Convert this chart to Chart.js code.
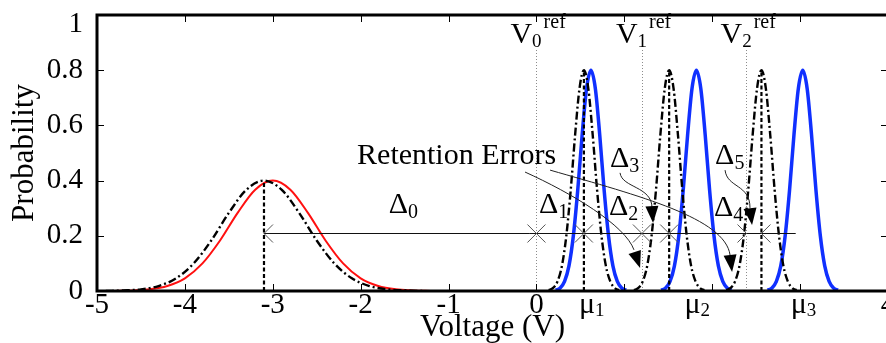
<!DOCTYPE html>
<html>
<head>
<meta charset="utf-8">
<title>Threshold voltage distributions before and after retention</title>
<script src="https://cdn.jsdelivr.net/npm/chart.js@4.4.1/dist/chart.umd.min.js"></script>
<style>
  html, body { margin: 0; padding: 0; background: #fff; overflow: hidden; }
  #frame { width: 886px; height: 343px; overflow: hidden; }
  #chart { display: block; }
</style>
</head>
<body>
<div id="frame"><canvas id="chart" width="900" height="343" style="width:900px;height:343px"></canvas></div>
<script>
const SERIF = "'Liberation Serif', 'Times New Roman', serif";

// Axis ticks
const xTickValues = [-5, -4, -3, -2, -1, 0, 1, 2, 3, 4];
const xTickLabels = ['-5', '-4', '-3', '-2', '-1', '0', '', '', '', '4'];
const yTickValues = [0, 0.2, 0.4, 0.6, 0.8, 1];
const yTickLabels = ['0', '0.2', '0.4', '0.6', '0.8', '1'];

// Read reference voltages and state means (V)
const refVoltages = [0, 1.2, 2.39];                 // V0ref, V1ref, V2ref
const programmedMeans = [0.62, 1.82, 3.03];         // mu1, mu2, mu3
const retainedMeans = [-3.1, 0.54, 1.51, 2.56];     // erased + programmed states after retention
const retainedPeaks = [0.4, 0.8, 0.8, 0.8];

// Erased state (fresh)
const erasedV = [-4.8, -4.6, -4.4, -4.2, -4.0, -3.8, -3.6, -3.4, -3.2, -3.0, -2.8, -2.6, -2.4, -2.2, -2.0, -1.8, -1.6, -1.4, -1.2];
const erasedP = [0.000, 0.002, 0.006, 0.018, 0.046, 0.100, 0.183, 0.283, 0.367, 0.400, 0.367, 0.283, 0.183, 0.100, 0.046, 0.018, 0.006, 0.002, 0.000];
// Erased state (after retention)
const erasedRetV = [-4.9, -4.7, -4.5, -4.3, -4.1, -3.9, -3.7, -3.5, -3.3, -3.1, -2.9, -2.7, -2.5, -2.3, -2.1, -1.9, -1.7, -1.5, -1.3];
const erasedRetP = [0.000, 0.002, 0.006, 0.018, 0.046, 0.100, 0.183, 0.283, 0.367, 0.400, 0.367, 0.283, 0.183, 0.100, 0.046, 0.018, 0.006, 0.002, 0.000];

// Programmed states (fresh)
const prog1V = [0.22, 0.27, 0.32, 0.37, 0.42, 0.47, 0.52, 0.57, 0.62, 0.67, 0.72, 0.77, 0.82, 0.87, 0.92, 0.97, 1.02];
const prog1P = [0.003, 0.011, 0.035, 0.091, 0.200, 0.366, 0.566, 0.734, 0.800, 0.734, 0.566, 0.366, 0.200, 0.091, 0.035, 0.011, 0.003];
const prog2V = [1.42, 1.47, 1.52, 1.57, 1.62, 1.67, 1.72, 1.77, 1.82, 1.87, 1.92, 1.97, 2.02, 2.07, 2.12, 2.17, 2.22];
const prog2P = [0.003, 0.011, 0.035, 0.091, 0.200, 0.366, 0.566, 0.734, 0.800, 0.734, 0.566, 0.366, 0.200, 0.091, 0.035, 0.011, 0.003];
const prog3V = [2.63, 2.68, 2.73, 2.78, 2.83, 2.88, 2.93, 2.98, 3.03, 3.08, 3.13, 3.18, 3.23, 3.28, 3.33, 3.38, 3.43];
const prog3P = [0.003, 0.011, 0.035, 0.091, 0.200, 0.366, 0.566, 0.734, 0.800, 0.734, 0.566, 0.366, 0.200, 0.091, 0.035, 0.011, 0.003];

// Programmed states (after retention)
const ret1V = [0.14, 0.19, 0.24, 0.29, 0.34, 0.39, 0.44, 0.49, 0.54, 0.59, 0.64, 0.69, 0.74, 0.79, 0.84, 0.89, 0.94];
const ret1P = [0.003, 0.011, 0.035, 0.091, 0.200, 0.366, 0.566, 0.734, 0.800, 0.734, 0.566, 0.366, 0.200, 0.091, 0.035, 0.011, 0.003];
const ret2V = [1.11, 1.16, 1.21, 1.26, 1.31, 1.36, 1.41, 1.46, 1.51, 1.56, 1.61, 1.66, 1.71, 1.76, 1.81, 1.86, 1.91];
const ret2P = [0.003, 0.011, 0.035, 0.091, 0.200, 0.366, 0.566, 0.734, 0.800, 0.734, 0.566, 0.366, 0.200, 0.091, 0.035, 0.011, 0.003];
const ret3V = [2.16, 2.21, 2.26, 2.31, 2.36, 2.41, 2.46, 2.51, 2.56, 2.61, 2.66, 2.71, 2.76, 2.81, 2.86, 2.91, 2.96];
const ret3P = [0.003, 0.011, 0.035, 0.091, 0.200, 0.366, 0.566, 0.734, 0.800, 0.734, 0.566, 0.366, 0.200, 0.091, 0.035, 0.011, 0.003];

// Margin bar and annotation placement (data units)
const deltaLevel = 0.21;
const deltaTailEnd = 2.95;
const refLineTop = 0.88;
const deltaLabels = [
  { sub: '0', x: -1.68, y: 0.283 },
  { sub: '1', x: 0.03,  y: 0.283 },
  { sub: '2', x: 0.826, y: 0.275 },
  { sub: '3', x: 0.837, y: 0.449 },
  { sub: '4', x: 2.021, y: 0.272 },
  { sub: '5', x: 2.033, y: 0.460 }
];
const errorsLabel = { text: 'Retention Errors', x: -2.041, y: 0.460 };
// start, control 1, control 2, head base, head tip
const calloutArrows = [
  [[-0.130, 0.431], [0.399, 0.355], [1.008, 0.239], [1.110, 0.149], [1.179, 0.083]],
  [[0.155, 0.438], [1.178, 0.344], [2.146, 0.264], [2.203, 0.130], [2.226, 0.069]],
  [[0.951, 0.428], [0.974, 0.373], [1.315, 0.380], [1.315, 0.301], [1.327, 0.246]],
  [[2.146, 0.438], [2.169, 0.373], [2.430, 0.388], [2.430, 0.301], [2.453, 0.239]]
];

const pts = (xs, ys) => xs.map((v, i) => ({ x: v, y: ys[i] }));

const curve = (data, color, width, dash, order) => ({
  data, borderColor: color, borderWidth: width, borderDash: dash,
  pointRadius: 0, fill: false, cubicInterpolationMode: 'monotone', order
});

const RED = '#ff1010';
const BLUE = '#1030ff';
const BLACK = '#000000';
const DASHDOT = [8, 3, 2, 3];

const datasets = [
  curve(pts(erasedV, erasedP), RED, 2, [], 6),
  curve(pts(prog1V, prog1P), BLUE, 3.5, [], 5),
  curve(pts(prog2V, prog2P), BLUE, 3.5, [], 5),
  curve(pts(prog3V, prog3P), BLUE, 3.5, [], 5),
  curve(pts(erasedRetV, erasedRetP), BLACK, 2.4, DASHDOT, 4),
  curve(pts(ret1V, ret1P), BLACK, 2.4, DASHDOT, 4),
  curve(pts(ret2V, ret2P), BLACK, 2.4, DASHDOT, 4),
  curve(pts(ret3V, ret3P), BLACK, 2.4, DASHDOT, 4)
];
// dashed drops from each retained peak to the axis
retainedMeans.forEach((m, i) => {
  datasets.push({
    data: [{ x: m, y: 0 }, { x: m, y: retainedPeaks[i] }],
    borderColor: BLACK, borderWidth: 2.2, borderDash: [4, 2.5],
    pointRadius: 0, fill: false, order: 1
  });
});

function openHead(ctx, px, py, dir) {
  ctx.moveTo(px - dir * 9, py - 9);
  ctx.lineTo(px, py);
  ctx.lineTo(px - dir * 9, py + 9);
}

function subText(ctx, main, sub, x, y, mainSize, subSize, drop) {
  ctx.font = mainSize + 'px ' + SERIF;
  ctx.fillText(main, x, y);
  const w = ctx.measureText(main).width;
  ctx.font = subSize + 'px ' + SERIF;
  ctx.fillText(sub, x + w, y + drop);
  return x + w + ctx.measureText(sub).width;
}

const annotate = {
  id: 'annotate',
  beforeDatasetsDraw(chart) {
    const { ctx, scales: { x, y } } = chart;
    ctx.save();
    ctx.strokeStyle = '#8c8c8c';
    ctx.lineWidth = 1;
    ctx.setLineDash([1, 2]);
    refVoltages.forEach(v => {
      const px = Math.round(x.getPixelForValue(v)) + 0.5;
      ctx.beginPath();
      ctx.moveTo(px, y.getPixelForValue(0));
      ctx.lineTo(px, y.getPixelForValue(refLineTop));
      ctx.stroke();
    });
    ctx.restore();
  },
  afterDatasetsDraw(chart) {
    const { ctx, scales: { x, y } } = chart;
    const X = v => x.getPixelForValue(v);
    const Y = v => y.getPixelForValue(v);
    ctx.save();

    // margin bar with arrowheads at every boundary
    const bounds = [retainedMeans[0], refVoltages[0], retainedMeans[1], refVoltages[1],
                    retainedMeans[2], refVoltages[2], retainedMeans[3]];
    const ly = Math.round(Y(deltaLevel)) + 0.5;
    ctx.strokeStyle = '#111';
    ctx.lineWidth = 1;
    ctx.beginPath();
    ctx.moveTo(X(bounds[0]), ly);
    ctx.lineTo(X(deltaTailEnd), ly);
    ctx.stroke();
    ctx.strokeStyle = '#555';
    ctx.beginPath();
    for (let i = 0; i < 5; i++) {
      openHead(ctx, X(bounds[i]), ly, -1);
      openHead(ctx, X(bounds[i + 1]), ly, 1);
    }
    openHead(ctx, X(bounds[6]), ly, -1);
    ctx.stroke();

    // curved callouts with filled heads
    calloutArrows.forEach(a => {
      const p = a.map(([vx, vy]) => [X(vx), Y(vy)]);
      ctx.strokeStyle = '#222';
      ctx.lineWidth = 1;
      ctx.beginPath();
      ctx.moveTo(p[0][0], p[0][1]);
      ctx.bezierCurveTo(p[1][0], p[1][1], p[2][0], p[2][1], p[3][0], p[3][1]);
      ctx.stroke();
      const tip = p[4];
      let dx = tip[0] - p[3][0], dy = tip[1] - p[3][1];
      const len = Math.hypot(dx, dy);
      dx /= len; dy /= len;
      const bx = tip[0] - dx * 17, by = tip[1] - dy * 17;
      ctx.fillStyle = '#000';
      ctx.beginPath();
      ctx.moveTo(tip[0], tip[1]);
      ctx.lineTo(bx - dy * 6.5, by + dx * 6.5);
      ctx.lineTo(bx + dy * 6.5, by - dx * 6.5);
      ctx.closePath();
      ctx.fill();
    });

    // text
    ctx.fillStyle = '#000';
    ctx.textBaseline = 'alphabetic';
    ctx.textAlign = 'left';
    deltaLabels.forEach(d => subText(ctx, '\u0394', d.sub, X(d.x), Y(d.y), 30, 20, 5));
    ctx.font = '30px ' + SERIF;
    ctx.fillText(errorsLabel.text, X(errorsLabel.x), Y(errorsLabel.y));

    // reference voltage labels
    refVoltages.forEach((v, i) => {
      const left = X(v) - 26;
      const base = 43;
      const end = subText(ctx, 'V', String(i), left, base, 30, 19, 4);
      ctx.font = '20px ' + SERIF;
      ctx.fillText('ref', end + 2, base - 15);
    });
    ctx.restore();
  },
  afterDraw(chart) {
    const { ctx, chartArea: { left, right, top, bottom }, scales: { x, y } } = chart;
    ctx.save();
    // inward ticks on all four sides
    ctx.strokeStyle = '#000';
    ctx.lineWidth = 1;
    ctx.beginPath();
    xTickValues.forEach(v => {
      const px = Math.round(x.getPixelForValue(v)) + 0.5;
      ctx.moveTo(px, bottom); ctx.lineTo(px, bottom - 7);
      ctx.moveTo(px, top); ctx.lineTo(px, top + 7);
    });
    yTickValues.forEach(v => {
      const py = Math.round(y.getPixelForValue(v)) + 0.5;
      ctx.moveTo(left, py); ctx.lineTo(left + 7, py);
      ctx.moveTo(right, py); ctx.lineTo(right - 7, py);
    });
    ctx.stroke();
    // plot frame
    ctx.lineWidth = 3;
    ctx.strokeRect(left, top, right - left, bottom - top);

    // state-mean labels under the axis
    ctx.fillStyle = '#000';
    ctx.textAlign = 'left';
    ctx.textBaseline = 'alphabetic';
    programmedMeans.forEach((m, i) => {
      subText(ctx, '\u03bc', String(i + 1), x.getPixelForValue(m) - 12, 313, 30, 19, 3);
    });
    // top y label sits a little below the frame
    ctx.font = '29px ' + SERIF;
    ctx.textAlign = 'right';
    ctx.fillText(yTickLabels[yTickLabels.length - 1], left - 14, y.getPixelForValue(1) + 17);
    ctx.restore();
  }
};

new Chart(document.getElementById('chart'), {
  type: 'line',
  data: { datasets },
  options: {
    responsive: false,
    animation: false,
    devicePixelRatio: 1,
    layout: { padding: { left: 0, top: 15, right: 12, bottom: 0 } },
    plugins: { legend: { display: false }, tooltip: { enabled: false } },
    scales: {
      x: {
        type: 'linear', min: -5, max: 4,
        afterBuildTicks: s => { s.ticks = xTickValues.map(v => ({ value: v })); },
        afterFit: s => { s.height = 52; s.paddingLeft = 0; s.paddingRight = 0; },
        ticks: {
          autoSkip: false, maxRotation: 0, padding: 3, color: '#000',
          font: { family: SERIF, size: 29, lineHeight: 0.8 },
          callback: (v, i) => xTickLabels[i]
        },
        grid: { display: false, drawTicks: false },
        border: { display: false },
        title: {
          display: true, text: 'Voltage (V)', color: '#000',
          font: { family: SERIF, size: 31, lineHeight: 1 },
          padding: { top: 0, bottom: 0 }
        }
      },
      y: {
        type: 'linear', min: 0, max: 1,
        afterBuildTicks: s => { s.ticks = yTickValues.map(v => ({ value: v })); },
        afterFit: s => { s.width = 97; s.paddingTop = 0; s.paddingBottom = 0; },
        ticks: {
          padding: 14, color: '#000',
          font: { family: SERIF, size: 29, lineHeight: 1 },
          callback: (v, i) => (i === yTickLabels.length - 1 ? '' : yTickLabels[i])
        },
        grid: { display: false, drawTicks: false },
        border: { display: false },
        title: {
          display: true, text: 'Probability', color: '#000',
          font: { family: SERIF, size: 31, lineHeight: 1 },
          padding: { top: 9, bottom: 0 }
        }
      }
    }
  },
  plugins: [annotate]
});
</script>
</body>
</html>
